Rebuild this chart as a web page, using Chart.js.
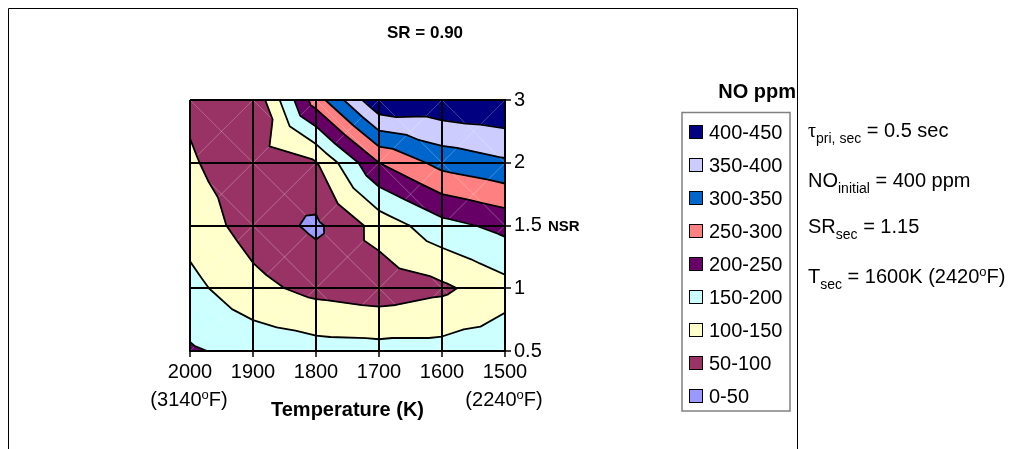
<!DOCTYPE html>
<html>
<head>
<meta charset="utf-8">
<script src="https://cdn.jsdelivr.net/npm/chart.js@4.4.1/dist/chart.umd.min.js"></script>
<style>
  html, body { margin: 0; padding: 0; background: #fff; }
  #wrap { width: 1013px; height: 449px; }
</style>
</head>
<body>
<div id="wrap"><canvas id="noChart"></canvas></div>
<script>
// grid of the contour chart
const temps = [2000, 1900, 1800, 1700, 1600, 1500]; // K
const nsrLabels = ['0.5', '1', '1.5', '2', '3'];
// NO ppm at each node, one array per NSR row (same order as temps)
const noNsr05 = [206, 184, 171, 168, 168, 178];
const noNsr10 = [165, 115, 85, 72, 90, 132];
const noNsr15 = [130, 78, 40, 119, 183, 215];
const noNsr20 = [105, 72, 97, 250, 317, 342];
const noNsr30 = [92, 58, 275, 445, 440, 448];
// bands, low to high
const bandLabels = ['0-50', '50-100', '100-150', '150-200', '200-250', '250-300', '300-350', '350-400', '400-450'];
const bandColors = ['#9999FF', '#993366', '#FFFFCC', '#CCFFFF', '#660066', '#FF8080', '#0066CC', '#CCCCFF', '#000080'];
const bandStep = 50;

const fam = '"Liberation Sans", Arial, sans-serif';
const rows = [noNsr05, noNsr10, noNsr15, noNsr20, noNsr30];

// split a polygon (points with value v) at threshold t
function clipPoly(poly, t, keepAbove) {
  const out = [];
  for (let i = 0; i < poly.length; i++) {
    const a = poly[i], b = poly[(i + 1) % poly.length];
    const ain = keepAbove ? a.v >= t : a.v <= t;
    const bin = keepAbove ? b.v >= t : b.v <= t;
    if (ain) out.push(a);
    if (ain !== bin) {
      const f = (t - a.v) / (b.v - a.v);
      out.push({ x: a.x + f * (b.x - a.x), y: a.y + f * (b.y - a.y), v: t });
    }
  }
  return out;
}

// each cell -> 4 triangles around the centre (excel style)
const triangles = [];
const diagPts = [];
for (let j = 0; j < rows.length - 1; j++) {
  for (let i = 0; i < temps.length - 1; i++) {
    const A = { x: temps[i], y: j, v: rows[j][i] };
    const B = { x: temps[i + 1], y: j, v: rows[j][i + 1] };
    const C = { x: temps[i + 1], y: j + 1, v: rows[j + 1][i + 1] };
    const D = { x: temps[i], y: j + 1, v: rows[j + 1][i] };
    const E = { x: (A.x + B.x) / 2, y: j + 0.5, v: (A.v + B.v + C.v + D.v) / 4 };
    triangles.push([A, B, E], [B, C, E], [C, D, E], [D, A, E]);
    diagPts.push({ x: A.x, y: A.y }, { x: C.x, y: C.y }, { x: null, y: null });
    diagPts.push({ x: B.x, y: B.y }, { x: D.x, y: D.y }, { x: null, y: null });
  }
}

const datasets = [];

// contour lines
const linePts = [];
for (let k = 1; k < bandLabels.length; k++) {
  const L = k * bandStep + 1e-6;
  triangles.forEach(tri => {
    const hits = [];
    for (let e = 0; e < 3; e++) {
      const a = tri[e], b = tri[(e + 1) % 3];
      if ((a.v - L) * (b.v - L) < 0) {
        const f = (L - a.v) / (b.v - a.v);
        hits.push({ x: a.x + f * (b.x - a.x), y: a.y + f * (b.y - a.y) });
      }
    }
    if (hits.length === 2) linePts.push(hits[0], hits[1], { x: null, y: null });
  });
}
datasets.push({
  label: 'contours', data: linePts, showLine: true, borderColor: '#000', borderWidth: 1.8,
  borderCapStyle: 'round', pointRadius: 0, fill: false, order: 0
});
datasets.push({
  label: 'mesh', data: diagPts, showLine: true, borderColor: 'rgba(255,255,255,0.25)', borderWidth: 1,
  pointRadius: 0, fill: false, order: 1
});

// filled bands
triangles.forEach(tri => {
  bandLabels.forEach((lab, k) => {
    let poly = tri;
    if (k > 0) poly = clipPoly(poly, k * bandStep, true);
    if (k < bandLabels.length - 1 && poly.length) poly = clipPoly(poly, (k + 1) * bandStep, false);
    if (poly.length < 3) return;
    const pts = poly.map(p => ({ x: p.x, y: p.y }));
    pts.push(pts[0]);
    datasets.push({
      label: lab, data: pts, showLine: true, fill: 'shape',
      backgroundColor: bandColors[k], borderColor: bandColors[k], borderWidth: 1,
      pointRadius: 0, order: 2
    });
  });
});

function drawRuns(ctx, x, y, runs) {
  runs.forEach(r => {
    const size = r.size || 20;
    ctx.font = (r.bold ? 'bold ' : '') + size + 'px ' + (r.family || fam);
    ctx.textAlign = 'left';
    ctx.textBaseline = 'alphabetic';
    ctx.fillText(r.t, x, y + (r.dy || 0));
    x += ctx.measureText(r.t).width;
  });
}

const decor = {
  id: 'decor',
  afterDraw(chart) {
    const ctx = chart.ctx;
    const xs = chart.scales.x, ys = chart.scales.y;
    ctx.save();
    ctx.fillStyle = '#000';
    // outer frame
    ctx.strokeStyle = '#000';
    ctx.lineWidth = 1;
    ctx.beginPath();
    ctx.moveTo(8.5, 449); ctx.lineTo(8.5, 8.5); ctx.lineTo(797.5, 8.5); ctx.lineTo(797.5, 449);
    ctx.stroke();

    // title
    ctx.font = 'bold 17px ' + fam;
    ctx.textAlign = 'center';
    ctx.textBaseline = 'middle';
    ctx.fillText('SR = 0.90', 425, 33);

    // NSR beside the 1.5 tick
    ctx.font = 'bold 15px ' + fam;
    ctx.textAlign = 'left';
    ctx.fillText('NSR', 548, ys.getPixelForValue(2) + 1);

    // fahrenheit under the end ticks
    [[2000, '3140'], [1500, '2240']].forEach(([t, f]) => {
      ctx.font = '20px ' + fam;
      const w1 = ctx.measureText('(' + f).width;
      ctx.font = '13px ' + fam;
      const w2 = ctx.measureText('o').width;
      ctx.font = '20px ' + fam;
      const w3 = ctx.measureText('F)').width;
      const cx = xs.getPixelForValue(t) - 1;
      drawRuns(ctx, cx - (w1 + w2 + w3) / 2, 406, [
        { t: '(' + f }, { t: 'o', size: 13, dy: -7 }, { t: 'F)' }
      ]);
    });

    // legend
    ctx.font = 'bold 20px ' + fam;
    ctx.textAlign = 'right';
    ctx.textBaseline = 'middle';
    ctx.fillText('NO ppm', 796, 92);
    ctx.strokeStyle = '#808080';
    ctx.lineWidth = 1.5;
    ctx.strokeRect(682, 112.5, 108, 298.5);
    ctx.font = '20px ' + fam;
    ctx.textAlign = 'left';
    for (let n = 0; n < bandLabels.length; n++) {
      const k = bandLabels.length - 1 - n;
      const cy = Math.round(131.7 + 33.05 * n);
      ctx.fillStyle = bandColors[k];
      ctx.fillRect(689.5, cy - 6.5, 13, 13);
      ctx.strokeStyle = '#000';
      ctx.lineWidth = 1;
      ctx.strokeRect(689.5, cy - 6.5, 13, 13);
      ctx.fillStyle = '#000';
      ctx.fillText(bandLabels[k], 709, cy + 1);
    }

    // run conditions
    const sub = { size: 14, dy: 6 };
    drawRuns(ctx, 808, 137, [{ t: 'τ', family: '"Liberation Serif", serif' }, Object.assign({ t: 'pri, sec' }, sub), { t: ' = 0.5 sec' }]);
    drawRuns(ctx, 808, 187, [{ t: 'NO' }, Object.assign({ t: 'initial' }, sub), { t: ' = 400 ppm' }]);
    drawRuns(ctx, 808, 233, [{ t: 'SR' }, Object.assign({ t: 'sec' }, sub), { t: ' = 1.15' }]);
    drawRuns(ctx, 808, 283, [{ t: 'T' }, Object.assign({ t: 'sec' }, sub), { t: ' = 1600K (2420' }, { t: 'o', size: 13, dy: -7 }, { t: 'F)' }]);
    ctx.restore();
  }
};

const axisGrid = { color: '#000', lineWidth: 2, tickLength: 6, tickColor: '#000', tickWidth: 1.5, z: 1 };

new Chart(document.getElementById('noChart'), {
  type: 'scatter',
  data: { datasets },
  options: {
    responsive: true,
    maintainAspectRatio: false,
    animation: false,
    layout: { padding: { left: 190, top: 100, right: 463, bottom: 27 } },
    plugins: { legend: { display: false }, tooltip: { enabled: false } },
    scales: {
      x: {
        type: 'linear', min: 1500, max: 2000, reverse: true,
        afterFit: s => { s.height = 71; },
        ticks: { stepSize: 100, autoSkip: false, maxRotation: 0, padding: 3, color: '#000',
          font: { size: 20, family: fam }, callback: v => String(v) },
        grid: axisGrid,
        border: { color: '#000', width: 2, z: 1 },
        title: { display: true, text: 'Temperature (K)', color: '#000',
          font: { size: 20, weight: 'bold', family: fam }, padding: { top: 0, bottom: 0 } }
      },
      y: {
        type: 'linear', position: 'right', min: 0, max: 4,
        afterFit: s => { s.width = 45; },
        ticks: { stepSize: 1, padding: 3, color: '#000', font: { size: 20, family: fam },
          callback: v => nsrLabels[v] },
        grid: axisGrid,
        border: { color: '#000', width: 2, z: 1 }
      }
    }
  },
  plugins: [decor]
});
</script>
</body>
</html>
